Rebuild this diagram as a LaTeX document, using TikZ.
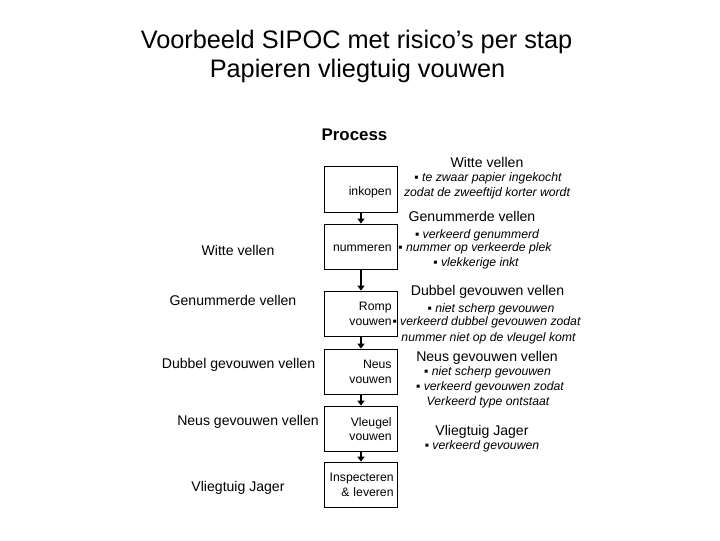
\documentclass[tikz,border=0pt]{standalone}
\usepackage{fontspec}
\setmainfont{Liberation Sans}
\usetikzlibrary{arrows.meta}

\begin{document}
\begin{tikzpicture}[x=0.025cm,y=-0.025cm,>={Triangle[length=3.5pt,width=5pt]},line cap=butt,
  stepbox/.style={draw,line width=0.9pt,minimum height=1.14cm,text width=1.53cm,inner xsep=0.15cm,align=right,font=\fontsize{8.7pt}{10.4pt}\selectfont},
  flow/.style={->,line width=1.6pt},
  io/.style={anchor=base,inner sep=0pt,font=\fontsize{10pt}{12pt}\selectfont},
  risk/.style={anchor=base,inner sep=0pt,font=\fontsize{8.7pt}{10.4pt}\selectfont\itshape}]
\useasboundingbox (0,0) rectangle (720,540);
% titel
\node[anchor=base,font=\fontsize{18pt}{21pt}\selectfont] (titel1) at (356.5,48.3) {Voorbeeld SIPOC met risico’s per stap};
\node[anchor=base,font=\fontsize{18pt}{21pt}\selectfont] (titel2) at (357.5,77.7) {Papieren vliegtuig vouwen};
\node[anchor=base,font=\fontsize{12pt}{14pt}\selectfont\bfseries] (proces) at (354.5,140.7) {Process};
% processtappen
\node[stepbox,text height=11pt,text depth=1.9pt] (inkopen) at (361,189.5) {inkopen};
\node[stepbox,text height=6.6pt,text depth=0pt] (nummeren) at (361,247) {nummeren};
\node[stepbox] (romp) at (361,314) {Romp\\vouwen};
\node[stepbox] (neus) at (361,372) {Neus\\vouwen};
\node[stepbox] (vleugel) at (361,429) {Vleugel\\vouwen};
\node[stepbox,text width=1.63cm,inner xsep=0.1cm] (inspectie) at (361,485) {Inspecteren\\\& leveren};
\draw[flow] (inkopen) -- (nummeren);
\draw[flow] (nummeren) -- (romp);
\draw[flow] (romp) -- (neus);
\draw[flow] (neus) -- (vleugel);
\draw[flow] (vleugel) -- (inspectie);
% input links
\node[io] (in1) at (238,255) {Witte vellen};
\node[io] (in2) at (233,305) {Genummerde vellen};
\node[io] (in3) at (238.5,368.3) {Dubbel gevouwen vellen};
\node[io] (in4) at (248,425) {Neus gevouwen vellen};
\node[io] (in5) at (238,491.7) {Vliegtuig Jager};
% output en risico's rechts
\node[io] (uit1) at (487,167.7) {Witte vellen};
\node[risk] (r1a) at (488,181.7) {▪ te zwaar papier ingekocht};
\node[risk] (r1b) at (487,196) {zodat de zweeftijd korter wordt};
\node[io] (uit2) at (472,221.7) {Genummerde vellen};
\node[risk] (r2a) at (477,238.3) {▪ verkeerd genummerd};
\node[risk] (r2b) at (475,251.7) {▪ nummer op verkeerde plek};
\node[risk] (r2c) at (476,266.7) {▪ vlekkerige inkt};
\node[io] (uit3) at (487.5,295.7) {Dubbel gevouwen vellen};
\node[risk] (r3a) at (491,312.3) {▪ niet scherp gevouwen};
\node[risk] (r3b) at (486.5,325.7) {▪ verkeerd dubbel gevouwen zodat};
\node[risk] (r3c) at (488.5,341) {nummer niet op de vleugel komt};
\node[io] (uit4) at (487,361.7) {Neus gevouwen vellen};
\node[risk] (r4a) at (487.5,375.7) {▪ niet scherp gevouwen};
\node[risk] (r4b) at (490,390) {▪ verkeerd gevouwen zodat};
\node[risk] (r4c) at (488,405) {Verkeerd type ontstaat};
\node[io] (uit5) at (482,435) {Vliegtuig Jager};
\node[risk] (r5a) at (482,449.3) {▪ verkeerd gevouwen};
\end{tikzpicture}
\end{document}
